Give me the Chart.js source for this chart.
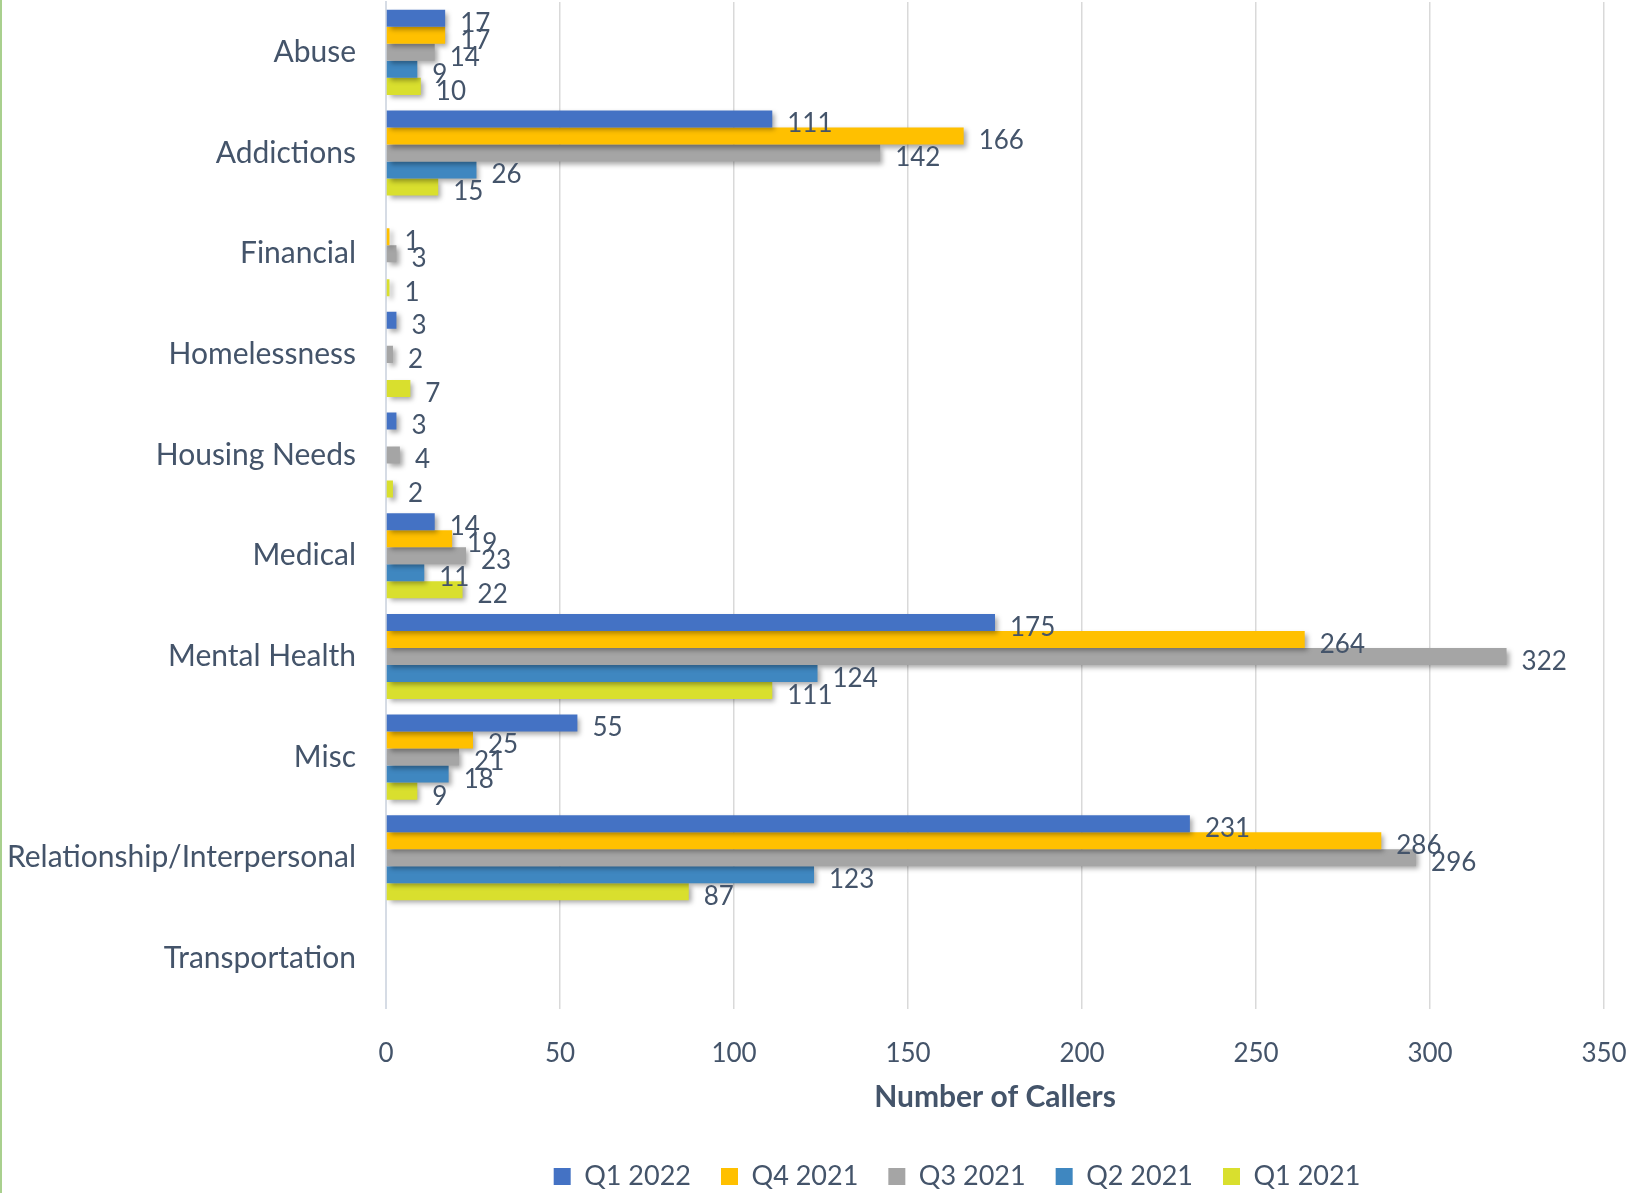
<!DOCTYPE html>
<html>
<head>
<meta charset="utf-8">
<script src="https://cdn.jsdelivr.net/npm/chart.js@4/dist/chart.umd.min.js"></script>
<style>
  html, body { margin: 0; padding: 0; background: #fff; }
  #wrap { position: relative; width: 1626px; height: 1193px; }
  #edge { position: absolute; left: 0; top: 0; width: 2px; height: 100%; background: #a9d08e; }
</style>
</head>
<body>
<div id="wrap">
  <canvas id="callers"></canvas>
  <div id="edge"></div>
</div>
<script>
"use strict"

const categories = ["Abuse", "Addictions", "Financial", "Homelessness", "Housing Needs",
    "Medical", "Mental Health", "Misc", "Relationship/Interpersonal", "Transportation"];
const seriesNames = ["Q1 2022", "Q4 2021", "Q3 2021", "Q2 2021", "Q1 2021"];
const q1_2022 = [17, 111, null, 3, 3, 14, 175, 55, 231, null];
const q4_2021 = [17, 166, 1, null, null, 19, 264, 25, 286, null];
const q3_2021 = [14, 142, 3, 2, 4, 23, 322, 21, 296, null];
const q2_2021 = [9, 26, null, null, null, 11, 124, 18, 123, null];
const q1_2021 = [10, 15, 1, 7, 2, 22, 111, 9, 87, null];
const xTicks = [0, 50, 100, 150, 200, 250, 300, 350];

const seriesValues = [q1_2022, q4_2021, q3_2021, q2_2021, q1_2021];
const seriesColors = ["#4472c4", "#ffc000", "#a5a5a5", "#3f87c0", "#d9df2e"];
const textColor = "#44546a";
const fontFamily = "Lato, 'Open Sans', sans-serif";

// soft drop shadow under the bars
const barShadow = {
    id: "barShadow",
    beforeDatasetDraw(chart) {
        const ctx = chart.ctx;
        ctx.save();
        ctx.shadowColor = "rgba(0,0,0,0.35)";
        ctx.shadowBlur = 5;
        ctx.shadowOffsetX = 3;
        ctx.shadowOffsetY = 3;
    },
    afterDatasetDraw(chart) {
        chart.ctx.restore();
    }
};

// value labels just past the end of each bar
const valueLabels = {
    id: "valueLabels",
    afterDatasetsDraw(chart) {
        const ctx = chart.ctx;
        ctx.save();
        ctx.font = "26px " + fontFamily;
        ctx.fillStyle = textColor;
        ctx.textAlign = "left";
        ctx.textBaseline = "middle";
        chart.data.datasets.forEach((ds, i) => {
            chart.getDatasetMeta(i).data.forEach((bar, j) => {
                const v = ds.data[j];
                if (v === null || v === undefined) return;
                ctx.fillText(String(v), bar.x + 15, bar.y + 5);
            });
        });
        ctx.restore();
    }
};

// legend sits centred under the plot, not the whole canvas
const legendShift = {
    id: "legendShift",
    afterLayout(chart) {
        const lg = chart.legend;
        if (!lg) return;
        lg.left += 144;
        lg.right += 144;
        lg.top += 7;
        lg.bottom += 7;
    }
};

new Chart("callers", {
    type: "bar",
    data: {
        labels: categories,
        datasets: seriesNames.map((name, i) => ({
            label: name,
            data: seriesValues[i],
            backgroundColor: seriesColors[i],
            borderWidth: 0,
            barPercentage: 1,
            categoryPercentage: 0.845
        }))
    },
    options: {
        indexAxis: "y",
        responsive: true,
        maintainAspectRatio: false,
        animation: false,
        layout: { padding: { top: 2, right: 0, left: 0, bottom: 0 } },
        plugins: {
            legend: {
                position: "bottom",
                labels: {
                    color: textColor,
                    font: { family: fontFamily, size: 27 },
                    boxWidth: 17,
                    boxHeight: 17,
                    padding: 30
                }
            },
            tooltip: { enabled: false }
        },
        scales: {
            x: {
                min: 0,
                max: 350,
                afterBuildTicks(scale) {
                    scale.ticks = xTicks.map(v => ({ value: v }));
                },
                afterFit(scale) {
                    scale.paddingLeft = 0;
                    scale.paddingRight = 22;
                },
                grid: {
                    color: "#d9d9d9",
                    lineWidth: 1.5,
                    drawTicks: true,
                    tickLength: 29,
                    tickColor: "rgba(0,0,0,0)"
                },
                border: { display: false },
                ticks: {
                    color: textColor,
                    font: { family: fontFamily, size: 26 },
                    padding: 0
                },
                title: {
                    display: true,
                    text: "Number of Callers",
                    color: textColor,
                    font: { family: fontFamily, size: 30, weight: "bold" },
                    padding: { top: 10, bottom: 11 }
                }
            },
            y: {
                grid: { display: false, drawTicks: false },
                border: { display: true, color: "#d6dce5", width: 2 },
                ticks: {
                    color: textColor,
                    font: { family: fontFamily, size: 30 },
                    padding: 30
                },
                afterFit(scale) {
                    scale.width = 386;
                    scale.paddingTop = 0;
                    scale.paddingBottom = 0;
                }
            }
        }
    },
    plugins: [barShadow, valueLabels, legendShift]
});
</script>
</body>
</html>
